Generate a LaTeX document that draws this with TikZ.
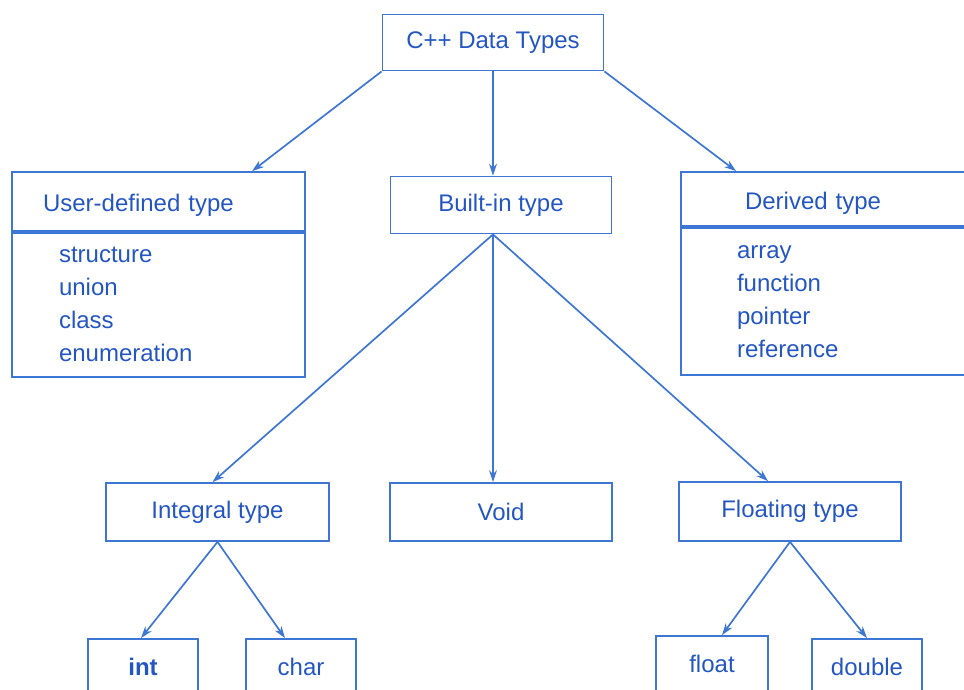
\documentclass[tikz,border=0pt]{standalone}
\usepackage{fontspec}
\setmainfont{Liberation Sans}
\usetikzlibrary{arrows.meta, calc}
\definecolor{lineblue}{RGB}{62,118,212}
\definecolor{textblue}{RGB}{36,86,194}

\begin{document}
\begin{tikzpicture}[x=1pt, y=-1pt, >={Stealth[length=12pt, width=8pt]},
    box/.style={draw=lineblue, line width=1.8pt, text=textblue, inner sep=0pt,
      font=\fontsize{24}{28}\selectfont, minimum width=221pt, minimum height=57pt},
    leaf/.style={box, minimum width=110pt, minimum height=56pt},
    head/.style={box, align=left, text height=21pt, text depth=1pt},
    list/.style={box, align=left, font=\fontsize{24}{33}\selectfont},
    link/.style={->, draw=lineblue, line width=1.7pt}]

    % Rahmen der Seite
    \useasboundingbox (0,0) rectangle (964,689);
    \clip (0,0) rectangle (964,689);

    % Wurzel
    \node[box, minimum height=56pt] (root) at (493,42.5) {C++ Data Types};

    % zweite Ebene
    \node[head, inner xsep=31pt, text width=231pt, minimum height=59pt] (usr) at (158.5,201.5) {User-defined type};
    \node[list, inner xsep=47pt, text width=199pt, minimum height=144pt, anchor=north] (usrlist) at (usr.south)
        {structure\\union\\class\\enumeration};
    \node[box] (built) at (501,205) {Built-in type};
    \node[head, inner xsep=64pt, text width=176pt, minimum height=54pt] (der) at (833,199) {Derived type};
    \node[list, inner xsep=56pt, text width=192pt, minimum height=147pt, anchor=north] (derlist) at (der.south)
        {array\\function\\pointer\\reference};

    % dritte Ebene
    \node[box, minimum width=223pt, minimum height=58pt] (integral) at (217.5,512) {Integral type};
    \node[box, minimum width=222pt, minimum height=58pt] (void) at (501,512) {Void};
    \node[box, minimum width=222pt, minimum height=59pt] (floating) at (790,511.5) {Floating type};

    % Blaetter
    \node[leaf] (int) at (143,667) {\bfseries int};
    \node[leaf] (char) at (301,667) {char};
    \node[leaf, minimum width=112pt] (float) at (712,664) {float};
    \node[leaf] (double) at (867,667) {double};

    % Pfeile
    \draw[link] (root.south west) -- ($(usr.north west)+(241,0)$);
    \draw[link] (root.south) -- (root.south |- built.north);
    \draw[link] (root.south east) -- ($(der.north west)+(56,0)$);

    \coordinate (hub) at ([xshift=-8pt]built.south);
    \draw[link] (hub) -- ([xshift=-5pt]integral.north);
    \draw[link] (hub) -- (hub |- void.north);
    \draw[link] (hub) -- ([xshift=-22pt]floating.north);

    \draw[link] (integral.south) -- ([xshift=-2pt]int.north);
    \draw[link] (integral.south) -- ([xshift=-16pt]char.north);
    \draw[link] (floating.south) -- ([xshift=10pt]float.north);
    \draw[link] (floating.south) -- (double.north);

\end{tikzpicture}
\end{document}
